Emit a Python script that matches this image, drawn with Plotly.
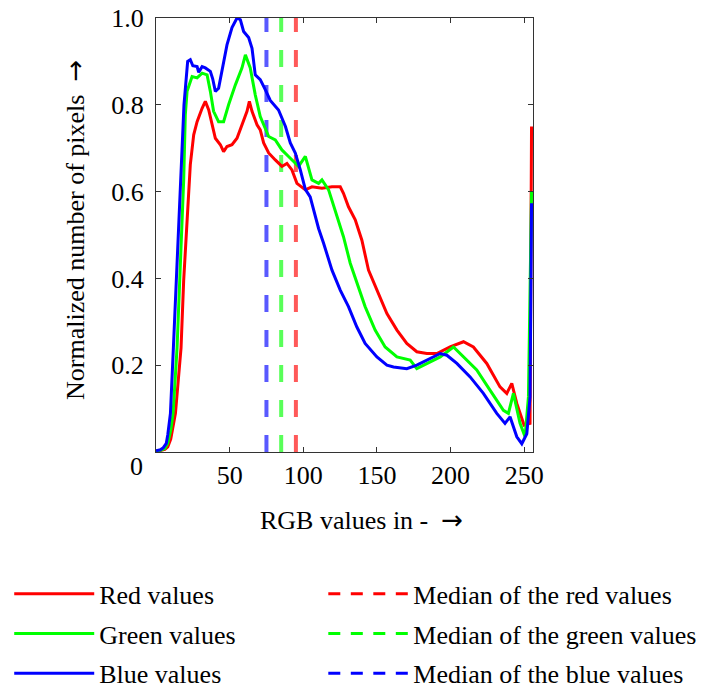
import plotly.graph_objects as go

# ---- data ----
blue_x = [0, 3, 5, 7, 8, 9.8, 11.8, 13.8, 16.6, 19, 21.5, 23.3, 25, 27.9, 29, 31.3, 33.5, 36.9, 38.5, 40.3,
          42.5, 44.9, 48.2, 51.6, 55, 57.3, 59.5, 62.9, 65.2, 67.4, 70.8, 74.2, 77.6, 83.2, 87.9, 91.2, 94.6,
          98, 101.4, 104.7, 108.1, 110.4, 113.8, 119.5, 125.1, 130.7, 136.4, 142, 150, 156.8, 161.3, 170.3,
          177.1, 183.9, 193, 197.5, 204.3, 213.3, 222.3, 231.4, 237, 240.4, 245, 248.4, 251.8, 254, 255]
blue_y = [0.003, 0.005, 0.01, 0.02, 0.04, 0.089, 0.24, 0.396, 0.627, 0.80, 0.90, 0.904, 0.89, 0.888, 0.875,
          0.888, 0.885, 0.877, 0.86, 0.831, 0.838, 0.877, 0.938, 0.978, 1.0, 0.996, 0.969, 0.955, 0.93, 0.869,
          0.858, 0.835, 0.81, 0.788, 0.75, 0.712, 0.689, 0.65, 0.605, 0.588, 0.542, 0.515, 0.481, 0.419, 0.373,
          0.335, 0.288, 0.25, 0.219, 0.2, 0.196, 0.192, 0.2, 0.211, 0.227, 0.223, 0.204, 0.173, 0.135, 0.089,
          0.066, 0.081, 0.035, 0.019, 0.042, 0.127, 0.573]

green_x = [0, 3, 6, 8, 10, 11.6, 14.3, 16.1, 18.8, 19.9, 21.1, 24.5, 27.9, 31.3, 34.7, 36.9, 39.1, 42.5, 45.9,
           49.3, 53.9, 58.4, 60.7, 64, 67.4, 70.8, 76.5, 81, 85.5, 90, 96.8, 101.4, 105.9, 110.4, 112.7, 117.2,
           122.9, 127.3, 131.9, 136.4, 142, 148.8, 155.6, 163.6, 172.6, 177.1, 183.9, 193, 202, 208.8, 217.8,
           226.9, 235.9, 239.3, 242.7, 247.2, 250.6, 252.9, 255]
green_y = [0.002, 0.004, 0.008, 0.02, 0.05, 0.089, 0.24, 0.396, 0.627, 0.777, 0.831, 0.865, 0.862, 0.873,
           0.869, 0.831, 0.785, 0.761, 0.761, 0.8, 0.846, 0.885, 0.915, 0.885, 0.823, 0.773, 0.727, 0.719,
           0.696, 0.681, 0.658, 0.681, 0.627, 0.619, 0.627, 0.604, 0.542, 0.496, 0.435, 0.389, 0.335, 0.281,
           0.242, 0.219, 0.212, 0.192, 0.204, 0.219, 0.242, 0.219, 0.189, 0.142, 0.096, 0.089, 0.135, 0.066,
           0.035, 0.127, 0.60]

red_x = [0, 3, 6, 8, 10, 13.2, 15, 17, 18.8, 21, 23.3, 25.6, 27.9, 31.3, 33.5, 35.8, 38.1, 40.3, 43.7, 45.9,
         48.2, 51.6, 55, 58.4, 61.8, 63.4, 65.2, 68.6, 70.8, 73.1, 76.5, 81, 85.5, 88.9, 92.3, 95.7, 101.4,
         105.9, 112.7, 119.5, 125.1, 127.3, 130.7, 135.3, 139.8, 144.3, 150, 156.8, 163.6, 170.3, 177.1, 183.9,
         190.7, 199.7, 208.8, 215.5, 224.6, 233.6, 238.2, 241.6, 245, 249.9, 254, 255]
red_y = [0.001, 0.003, 0.006, 0.012, 0.03, 0.089, 0.16, 0.24, 0.396, 0.52, 0.662, 0.731, 0.761, 0.792, 0.808,
         0.788, 0.754, 0.723, 0.708, 0.692, 0.704, 0.708, 0.723, 0.754, 0.785, 0.808, 0.785, 0.754, 0.742,
         0.712, 0.689, 0.673, 0.658, 0.665, 0.65, 0.619, 0.604, 0.611, 0.608, 0.611, 0.611, 0.596, 0.565,
         0.535, 0.488, 0.419, 0.373, 0.319, 0.281, 0.25, 0.231, 0.227, 0.227, 0.242, 0.254, 0.242, 0.204,
         0.15, 0.135, 0.158, 0.112, 0.062, 0.066, 0.75]

median_red = 95
median_green = 85
median_blue = 75

x_ticks = [50, 100, 150, 200, 250]
y_ticks = [0.2, 0.4, 0.6, 0.8, 1.0]
y_ticktext = ["0.2", "0.4", "0.6", "0.8", "1.0"]

FONT = "Liberation Serif, Times New Roman, serif"
ARROW = '<span style="font-family:DejaVu Sans">\u2192</span>'

series = [
    ("Red values", red_x, red_y, "#ff0000", "Median of the red values", median_red, "rgba(255,0,0,0.65)"),
    ("Green values", green_x, green_y, "#00ff00", "Median of the green values", median_green, "rgba(0,255,0,0.65)"),
    ("Blue values", blue_x, blue_y, "#0000ff", "Median of the blue values", median_blue, "rgba(0,0,255,0.65)"),
]

fig = go.Figure()

# median lines (behind the curves); their legend keys are separate entries below
for i, (name, xs, ys, col, mname, med, mcol) in enumerate(series):
    fig.add_trace(go.Scatter(x=[med, med], y=[0, 1], mode="lines", name=mname,
                             line=dict(color=mcol, width=4, dash="17px,18px"),
                             showlegend=False, hoverinfo="name"))
for i, (name, xs, ys, col, mname, med, mcol) in enumerate(series):
    fig.add_trace(go.Scatter(x=xs, y=ys, mode="lines", name=name,
                             line=dict(color=col, width=3),
                             legend="legend", legendgroup="s%d" % i, legendrank=i + 1))
for i, (name, xs, ys, col, mname, med, mcol) in enumerate(series):
    fig.add_trace(go.Scatter(x=[None], y=[None], mode="lines", name=mname,
                             line=dict(color=col, width=3, dash="12px,10.5px"),
                             legend="legend2", legendgroup="m%d" % i, legendrank=i + 1))

leg_common = dict(orientation="v", xref="container", yref="container", xanchor="left",
                  yanchor="top", y=0.177, itemwidth=80, tracegroupgap=3,
                  font=dict(family=FONT, size=26, color="black"),
                  bgcolor="rgba(0,0,0,0)", traceorder="grouped")

fig.update_layout(
    width=709, height=693,
    margin=dict(l=156, r=176, t=18, b=241, autoexpand=False),
    paper_bgcolor="white", plot_bgcolor="white",
    font=dict(family=FONT, size=26, color="black"),
    showlegend=True,
    legend=dict(x=0.013, **leg_common),
    legend2=dict(x=0.456, **leg_common),
    xaxis=dict(range=[0, 256], tickvals=x_ticks, ticks="inside", ticklen=5, tickcolor="#333",
               showline=True, linecolor="#333", linewidth=1, mirror="ticks", showgrid=False, zeroline=False,
               tickfont=dict(size=26)),
    yaxis=dict(range=[0, 1.0], tickvals=y_ticks, ticktext=y_ticktext, ticks="inside", ticklen=5,
               tickcolor="#333", showline=True, linecolor="#333", linewidth=1, mirror="ticks",
               showgrid=False, zeroline=False, tickfont=dict(size=26), ticklabelstandoff=6),
)

fig.add_annotation(text="RGB values in -  " + ARROW,
                   xref="paper", yref="paper", x=0.544, y=-0.157, showarrow=False,
                   xanchor="center", yanchor="middle", font=dict(family=FONT, size=26, color="black"))
fig.add_annotation(text="Normalized number of pixels  " + ARROW, textangle=-90,
                   xref="paper", yref="paper", x=-0.215, y=0.5115, showarrow=False,
                   xanchor="center", yanchor="middle", font=dict(family=FONT, size=26, color="black"))
fig.add_annotation(text="0", xref="paper", yref="paper", x=-0.053, y=-0.033, showarrow=False,
                   font=dict(family=FONT, size=26, color="black"), xanchor="center", yanchor="middle")

fig.write_html("out.html")
